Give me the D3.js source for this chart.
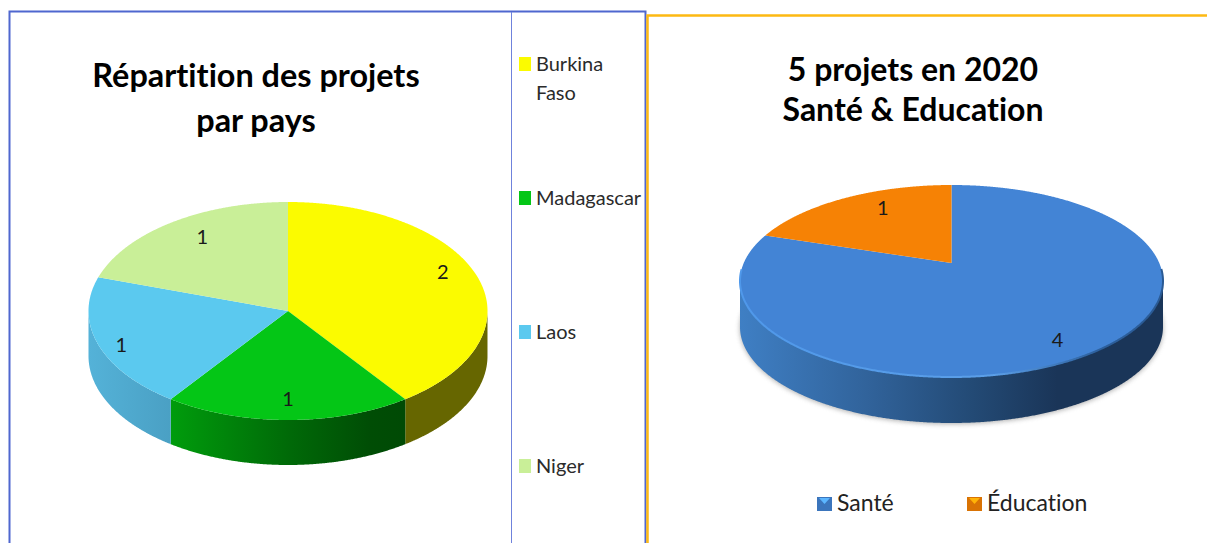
<!DOCTYPE html>
<html>
<head>
<meta charset="utf-8">
<script src="https://cdn.jsdelivr.net/npm/d3@7"></script>
<style>
  html, body { margin: 0; background: #fff; overflow: hidden; }
  text { font-family: Lato, "Open Sans", sans-serif; font-variant-ligatures: none; }
</style>
</head>
<body>
<div id="chart"></div>
<script>
const countries = ['Burkina Faso', 'Madagascar', 'Laos', 'Niger'];
const countryProjects = [2, 1, 1, 1];
const themes = ['Santé', 'Éducation'];
const themeProjects = [4, 1];

const countryTitle = ['Répartition des projets', 'par pays'];
const themeTitle = ['5 projets en 2020', 'Santé & Education'];

const width = 1207;
const height = 543;

const svg = d3.select('#chart')
  .append('svg')
  .attr('width', width)
  .attr('height', height)
  .style('display', 'block');

const defs = svg.append('defs');

defs.append('filter')
  .attr('id', 'soft')
  .attr('x', '-10%').attr('y', '-10%')
  .attr('width', '120%').attr('height', '120%')
  .append('feGaussianBlur')
  .attr('stdDeviation', 2.5);

function sideGradient(id, x1, x2, stops) {
  const g = defs.append('linearGradient')
    .attr('id', id)
    .attr('gradientUnits', 'userSpaceOnUse')
    .attr('x1', x1).attr('x2', x2)
    .attr('y1', 0).attr('y2', 0);
  stops.forEach(([offset, color]) => {
    g.append('stop').attr('offset', offset).attr('stop-color', color);
  });
  return `url(#${id})`;
}

// one pie in fake 3d. apex can sit above the ellipse centre (lift) for the perspective look
function pie3d({ values, colors, sides, cx, cy, rx, ry, lift, depth, nudges, bevel, shadow }) {
  const g = svg.append('g');
  const apexY = cy - lift;

  const arcs = d3.pie().sort(null).value((d) => d)(values);

  // where the ray from the apex hits the rim of the ellipse
  function rim(angle) {
    const dx = Math.sin(angle) * rx;
    const dy = -Math.cos(angle) * ry;
    const a = (dx * dx) / (rx * rx) + (dy * dy) / (ry * ry);
    const b = (2 * dy * -lift) / (ry * ry);
    const c = (lift * lift) / (ry * ry) - 1;
    const t = (-b + Math.sqrt(b * b - 4 * a * c)) / (2 * a);
    return [cx + dx * t, apexY + dy * t];
  }

  const line = d3.line();

  function rimPoints(a0, a1) {
    const n = Math.ceil((a1 - a0) / 0.005);
    return d3.range(n + 1).map((i) => rim(a0 + ((a1 - a0) * i) / n));
  }

  if (shadow) {
    const front = rimPoints(Math.PI / 2, (3 * Math.PI) / 2);
    g.append('path')
      .attr('d', line(front.map(([x, y]) => [x, y + depth + 1])) + 'Z')
      .attr('fill', '#777')
      .attr('opacity', 0.6)
      .attr('filter', 'url(#soft)');
  }

  // side walls first, only what faces the viewer
  g.append('g')
    .selectAll('path')
    .data(arcs)
    .join('path')
    .attr('fill', (d, i) => sides[i])
    .attr('d', (d) => {
      const front = rimPoints(d.startAngle, d.endAngle).filter(([, y]) => y >= cy);
      if (front.length < 2) return null;
      const lower = front.slice().reverse().map(([x, y]) => [x, y + depth]);
      return line(front.concat(lower)) + 'Z';
    });

  g.append('g')
    .selectAll('path')
    .data(arcs)
    .join('path')
    .attr('fill', (d, i) => colors[i])
    .attr('d', (d) => line([[cx, apexY]].concat(rimPoints(d.startAngle, d.endAngle))) + 'Z');

  if (bevel) {
    const edge = rimPoints(arcs[0].startAngle, arcs[0].endAngle).filter(([, y]) => y >= cy - 12);
    g.append('path')
      .attr('d', line(edge))
      .attr('fill', 'none')
      .attr('stroke', bevel)
      .attr('stroke-width', 2);
  }

  g.append('g')
    .selectAll('text')
    .data(arcs)
    .join('text')
    .attr('transform', (d, i) => {
      const [x, y] = rim((d.startAngle + d.endAngle) / 2);
      const lx = cx + (x - cx) * 0.8 + nudges[i][0];
      const ly = apexY + (y - apexY) * 0.8 + nudges[i][1];
      return `translate(${lx}, ${ly})`;
    })
    .attr('dy', '0.35em')
    .attr('text-anchor', 'middle')
    .attr('fill', '#1a1a1a')
    .style('font-size', '20px')
    .text((d) => d.data);
}

function title(lines, x, baselines, size) {
  svg.append('g')
    .selectAll('text')
    .data(lines)
    .join('text')
    .attr('x', x)
    .attr('y', (d, i) => baselines[i])
    .attr('text-anchor', 'middle')
    .attr('fill', '#000')
    .style('font-size', size + 'px')
    .style('font-weight', 700)
    .text((d) => d);
}

// panel frames
svg.append('path')
  .attr('d', 'M9.5,543V11.5H645.5V543')
  .attr('fill', 'none')
  .attr('stroke', '#4f67cf')
  .attr('stroke-width', 2);
svg.append('line')
  .attr('x1', 511.5).attr('x2', 511.5)
  .attr('y1', 12).attr('y2', 543)
  .attr('stroke', '#6f82dc')
  .attr('stroke-width', 1);
svg.append('path')
  .attr('d', 'M647.5,543V15.5H1207')
  .attr('fill', 'none')
  .attr('stroke', '#fdb913')
  .attr('stroke-width', 2.5);

title(countryTitle, 256, [87, 132], 32.4);
title(themeTitle, 913, [81, 121], 32);

const countryColor = d3.scaleOrdinal().domain(countries)
  .range(['#fbfb00', '#04c616', '#5bc9ef', '#c9ef98']);

pie3d({
  values: countryProjects,
  colors: countries.map(countryColor),
  sides: [
    '#666600',
    sideGradient('greenSide', 171, 405, [[0, '#009c0c'], [0.5, '#006a08'], [0.85, '#004d05'], [1, '#004a05']]),
    sideGradient('blueSide', 89, 171, [[0, '#54b2d8'], [1, '#4aa0c4']]),
    '#c9ef98'
  ],
  cx: 288, cy: 311, rx: 199.5, ry: 109, lift: 0, depth: 45,
  nudges: [[3, -12], [0, 1], [-15, 7], [8, -3]]
});

const themeColor = d3.scaleOrdinal().domain(themes).range(['#4384d5', '#f68205']);

pie3d({
  values: themeProjects,
  colors: themes.map(themeColor),
  sides: [
    sideGradient('santeSide', 740, 1163, [[0, '#3f7fc4'], [0.3, '#31639b'], [0.55, '#234a75'], [0.75, '#1a3558'], [1, '#1a3558']]),
    '#f68205'
  ],
  cx: 951.5, cy: 281, rx: 211.5, ry: 96, lift: 18, depth: 46,
  nudges: [[-8, 6], [15, -3]],
  bevel: sideGradient('santeBevel', 740, 1163, [[0, '#4f98ea'], [0.6, '#5b9fe8'], [0.85, '#2c5f9c'], [1, '#2a5a94']]),
  shadow: true
});

// legend of the left panel, one entry per slot down the column
const legendY = d3.scalePoint().domain(countries).range([64, 466]);

const legendLeft = svg.append('g')
  .selectAll('g')
  .data(countries)
  .join('g')
  .attr('transform', (d) => `translate(519, ${legendY(d)})`);

legendLeft.append('rect')
  .attr('y', -7)
  .attr('width', 12)
  .attr('height', 14)
  .attr('fill', countryColor);

legendLeft.append('text')
  .attr('fill', '#2b2b2b')
  .style('font-size', '20px')
  .selectAll('tspan')
  .data((d) => d.split(' '))
  .join('tspan')
  .attr('x', 17)
  .attr('y', (d, i) => 7 + i * 29)
  .text((d) => d);

// legend of the right panel
const legendX = d3.scalePoint().domain(themes).range([817, 967]);

const legendRight = svg.append('g')
  .selectAll('g')
  .data(themes)
  .join('g')
  .attr('transform', (d) => `translate(${legendX(d)}, 497)`);

legendRight.append('rect')
  .attr('width', 15)
  .attr('height', 14)
  .attr('fill', (d) => d3.color(themeColor(d)).darker(0.35));

legendRight.append('path')
  .attr('d', d3.line()([[2, 1], [13, 1], [7.5, 7]]) + 'Z')
  .attr('fill', (d) => d3.color(themeColor(d)).brighter(0.9));

legendRight.append('text')
  .attr('x', 20)
  .attr('y', 14)
  .attr('fill', '#222')
  .style('font-size', '23px')
  .text((d) => d);
</script>
</body>
</html>
